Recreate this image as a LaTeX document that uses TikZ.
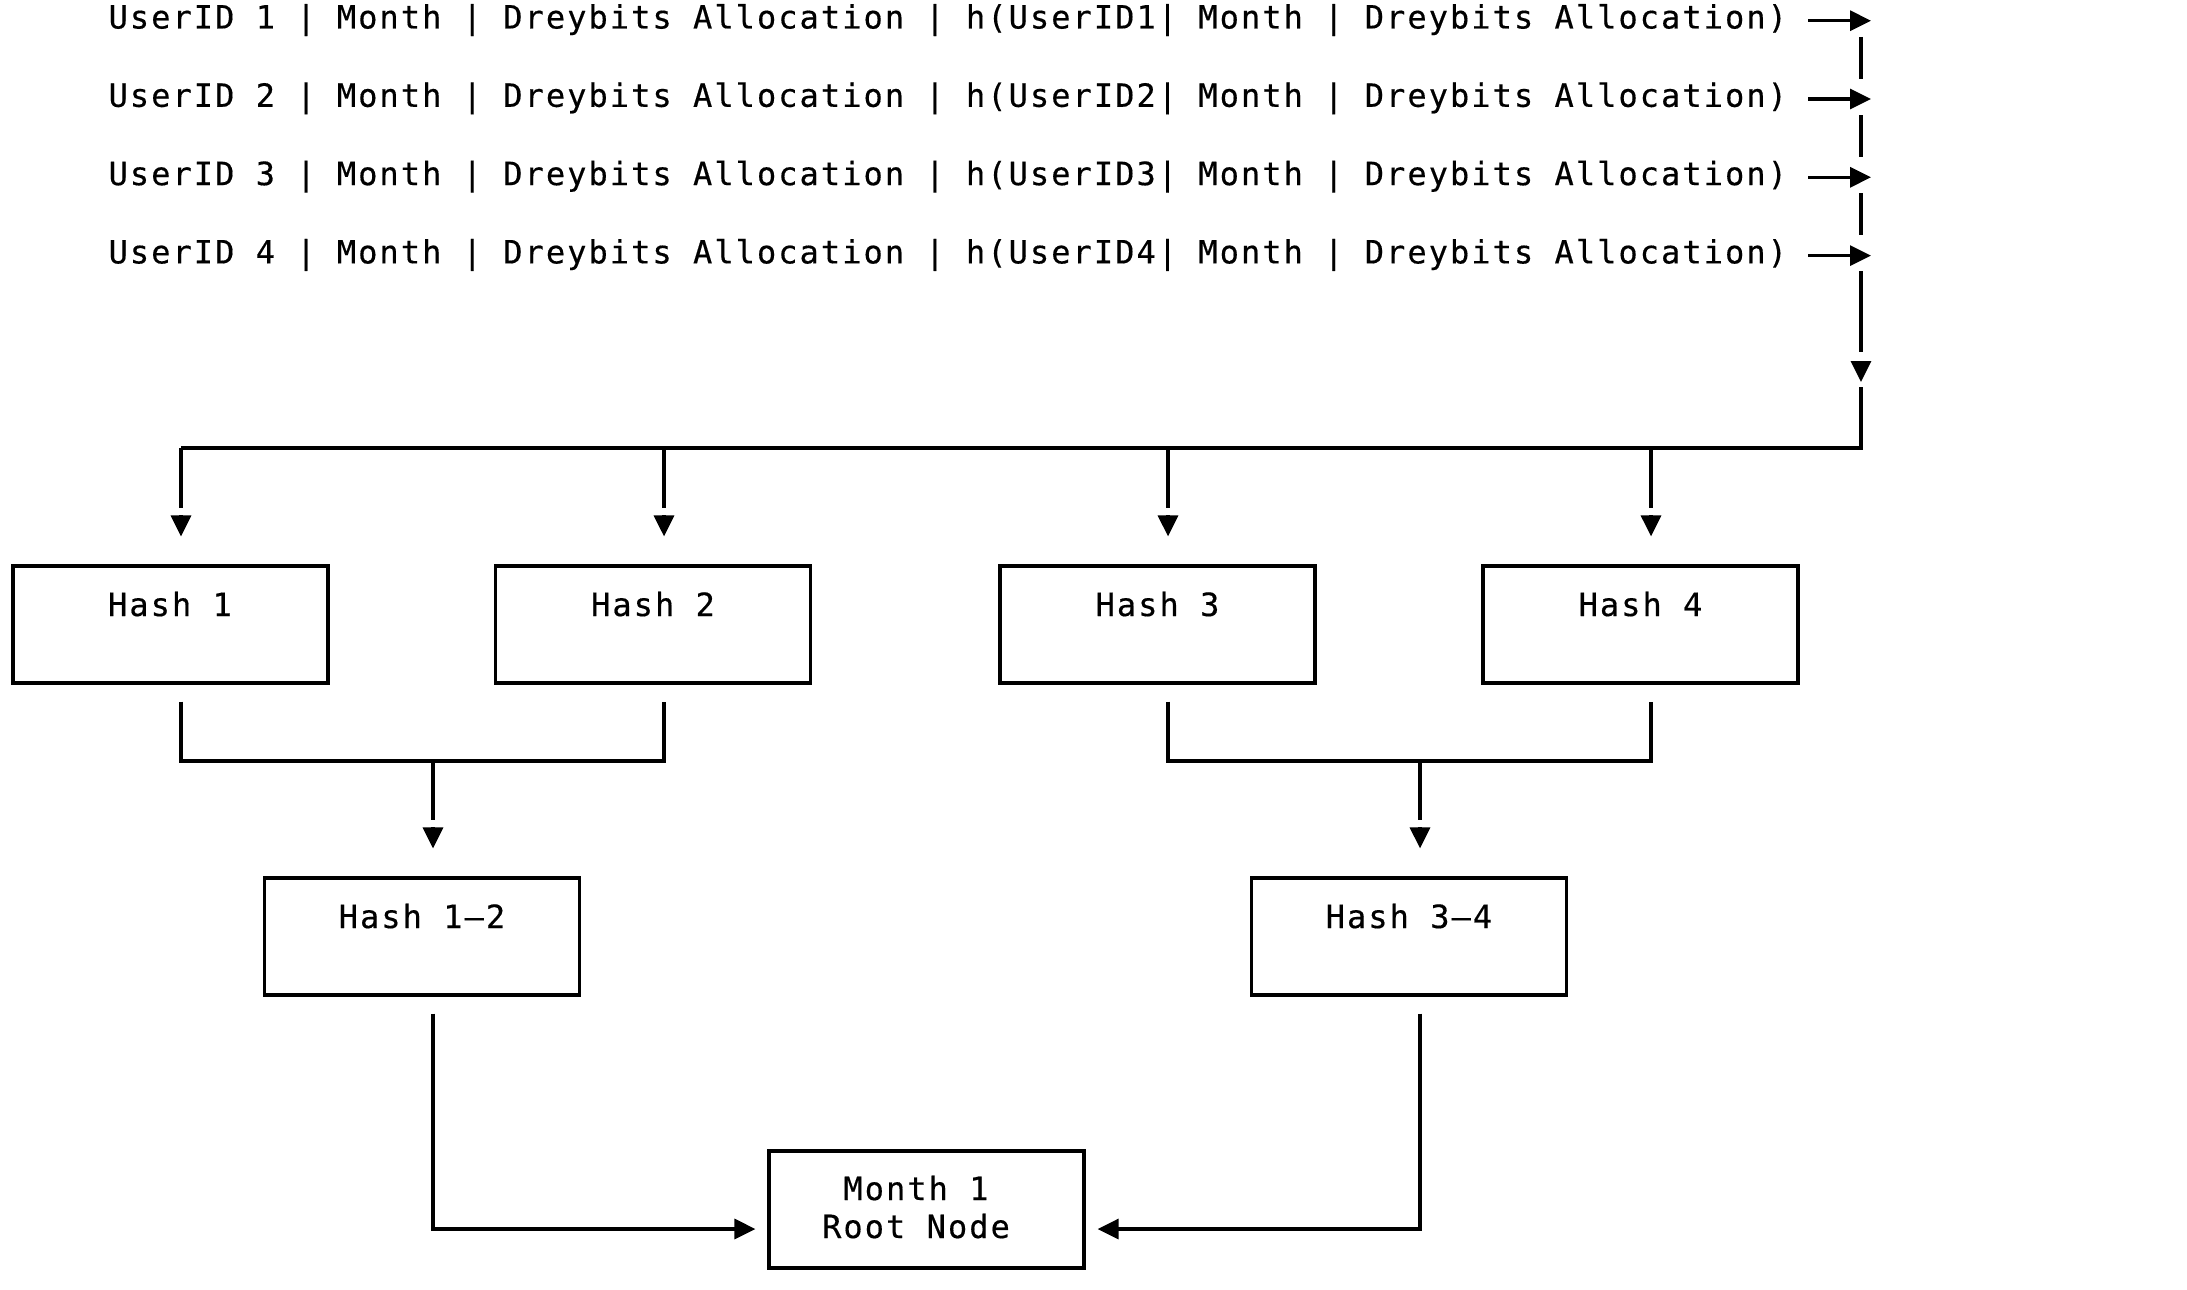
\documentclass[tikz,border=0pt]{standalone}
\usepackage{fontspec}
\usetikzlibrary{arrows.meta}
\newfontfamily\monofont[LetterSpace=6.4,FakeBold=0.4]{DejaVu Sans Mono}
\begin{document}
\begin{tikzpicture}[x=1pt,y=-1pt,line width=3.2pt,
  mono/.style={font=\monofont\fontsize{32}{38}\selectfont, inner sep=0pt},
  rowtxt/.style={mono, anchor=base west},
  lbl/.style={mono, anchor=base},
  hbox/.style={draw, minimum width=315pt, minimum height=117pt, inner sep=0pt},
  tip/.style={-{Triangle[length=21pt,width=20pt]}},
]
\useasboundingbox (0,0) rectangle (2187,1290);

% rows of data
\node[rowtxt] (u1) at (107,28.5)  {UserID 1 | Month | Dreybits Allocation | h(UserID1| Month | Dreybits Allocation)};
\node[rowtxt] (u2) at (107,106.8) {UserID 2 | Month | Dreybits Allocation | h(UserID2| Month | Dreybits Allocation)};
\node[rowtxt] (u3) at (107,185.1) {UserID 3 | Month | Dreybits Allocation | h(UserID3| Month | Dreybits Allocation)};
\node[rowtxt] (u4) at (107,263.4) {UserID 4 | Month | Dreybits Allocation | h(UserID4| Month | Dreybits Allocation)};

% boxes
\node[hbox] (h1) at (170.5,624.5) {};
\node[hbox] (h2) at (653,624.5) {};
\node[hbox] (h3) at (1157.5,624.5) {};
\node[hbox] (h4) at (1640.5,624.5) {};
\node[hbox] (h12) at (422,936.5) {};
\node[hbox] (h34) at (1409,936.5) {};
\node[hbox] (root) at (926.5,1209.5) {};

\node[lbl] (t1) at (170,616) {Hash 1};
\node[lbl] (t2) at (653,616) {Hash 2};
\node[lbl] (t3) at (1157.5,616) {Hash 3};
\node[lbl] (t4) at (1640.5,616) {Hash 4};
\node[lbl] (t12) at (422,928) {Hash 1–2};
\node[lbl] (t34) at (1409,928) {Hash 3–4};
\node[lbl] (tr1) at (916,1200) {Month 1};
\node[lbl] (tr2) at (916,1238) {Root Node};

% coordinates
\coordinate (s1) at (1808,20.7);   \coordinate (a1) at (1871,20.7);
\coordinate (s2) at (1808,99);     \coordinate (a2) at (1871,99);
\coordinate (s3) at (1808,177.3);  \coordinate (a3) at (1871,177.3);
\coordinate (s4) at (1808,255.6);  \coordinate (a4) at (1871,255.6);
\coordinate (busR) at (1861,448);
\coordinate (busL) at (181,448);
\coordinate (b2) at (664,448);
\coordinate (b3) at (1168,448);
\coordinate (b4) at (1651,448);

% row arrows
\draw[tip] (s1) -- (a1);
\draw[tip] (s2) -- (a2);
\draw[tip] (s3) -- (a3);
\draw[tip] (s4) -- (a4);

% right column
\draw (1861,37) -- (1861,79);
\draw (1861,115) -- (1861,157);
\draw (1861,193) -- (1861,235);
\draw (1861,271) -- (1861,352);
\draw[tip] (1861,361) -- (1861,382);
\draw (1861,387) -- (busR) -- (busL);

% branches to hash boxes
\foreach \c/\b in {busL/h1, b2/h2, b3/h3, b4/h4}{
  \draw (\c) -- ++(0,60);
  \draw[tip] ([yshift=49pt]\b.north -| \c) -- ([yshift=28pt]\b.north -| \c);
}

% pairs
\coordinate (m12) at (433,761);
\coordinate (m34) at (1420,761);
\draw ([yshift=-17pt]h1.south -| busL) |- (m12) -| ([yshift=-17pt]h2.south -| b2);
\draw ([yshift=-17pt]h3.south -| b3) |- (m34) -| ([yshift=-17pt]h4.south -| b4);
\draw (m12) -- ++(0,59);
\draw (m34) -- ++(0,59);
\draw[tip] ([yshift=49pt]h12.north -| m12) -- ([yshift=28pt]h12.north -| m12);
\draw[tip] ([yshift=49pt]h34.north -| m34) -- ([yshift=28pt]h34.north -| m34);

% to root
\draw[tip] ([yshift=-17pt]h12.south -| m12) |- ([xshift=-12pt]root.west |- 0,1229);
\draw[tip] ([yshift=-17pt]h34.south -| m34) |- ([xshift=12pt]root.east |- 0,1229);
\end{tikzpicture}
\end{document}
